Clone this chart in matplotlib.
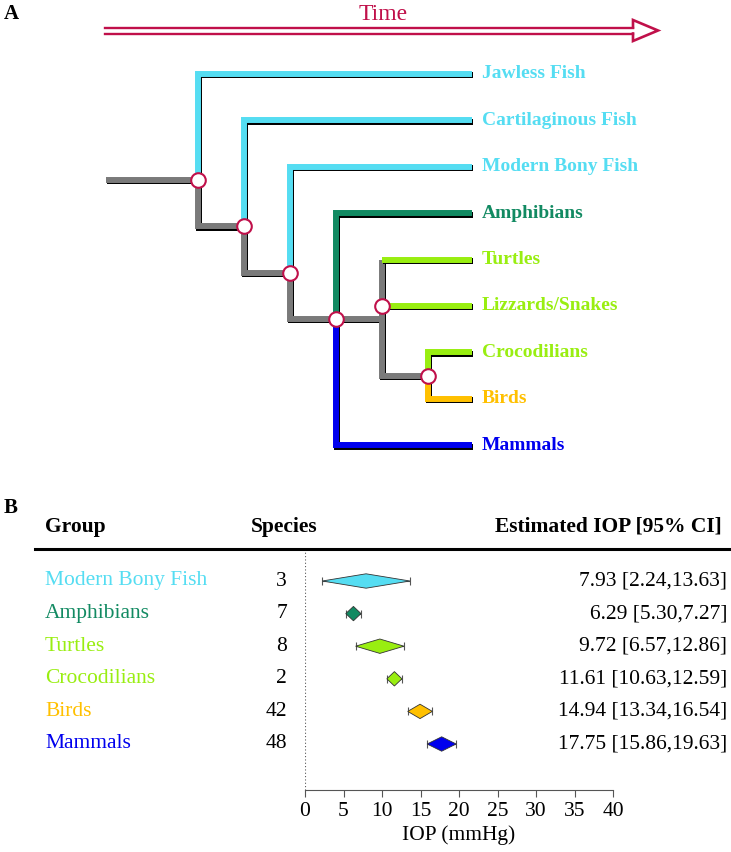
import matplotlib
matplotlib.use("Agg")
import matplotlib.pyplot as plt
from matplotlib.patches import Polygon
from matplotlib import patheffects as pe
from matplotlib import transforms as mtrans

plt.rcParams['font.family'] = ['Liberation Serif', 'DejaVu Serif']

# ---------------- data ----------------
taxa = ["Jawless Fish", "Cartilaginous Fish", "Modern Bony Fish", "Amphibians",
        "Turtles", "Lizzards/Snakes", "Crocodilians", "Birds", "Mammals"]
CYAN = "#55DDF2"
DGREEN = "#128A62"
LGREEN = "#99EE11"
ORANGE = "#FFC000"
BLUE = "#0000EE"
GRAY = "#7A7A7A"
CRIMSON = "#C0104A"
taxa_colors = [CYAN, CYAN, CYAN, DGREEN, LGREEN, LGREEN, LGREEN, ORANGE, BLUE]

groups = ["Modern Bony Fish", "Amphibians", "Turtles", "Crocodilians", "Birds", "Mammals"]
group_colors = [CYAN, DGREEN, LGREEN, LGREEN, ORANGE, BLUE]
species = [3, 7, 8, 2, 42, 48]
estimate = [7.93, 6.29, 9.72, 11.61, 14.94, 17.75]
ci_low = [2.24, 5.30, 6.57, 10.63, 13.34, 15.86]
ci_high = [13.63, 7.27, 12.86, 12.59, 16.54, 19.63]
xticks = [0, 5, 10, 15, 20, 25, 30, 35, 40]

# ---------------- figure ----------------
fig = plt.figure(figsize=(7.31, 8.52), dpi=100)
ax0 = fig.add_axes([0, 0, 1, 1])
ax0.set_xlim(0, 731)
ax0.set_ylim(852, 0)
ax0.axis("off")

# layout of tree (pixel grid)
tip_y0, tip_dy = 74, 46.4
lvl_x0, lvl_dx = 198, 46
tip_x = 472
def ty(r):
    return tip_y0 + tip_dy * r
def lx(l):
    return lvl_x0 + lvl_dx * l

shadow = [pe.SimpleLineShadow(offset=(1.0, -1.0), shadow_color="black", alpha=1.0), pe.Normal()]
LW = 4.3

def branch(pts, color):
    xs = [p[0] for p in pts]
    ys = [p[1] for p in pts]
    ax0.plot(xs, ys, color=color, lw=LW, solid_joinstyle="miter",
             solid_capstyle="butt", path_effects=shadow, zorder=2)

# internal nodes: (level, row)
nodes = [(0, 2.28), (1, 3.28), (2, 4.28), (3, 5.28), (4, 5.0), (5, 6.51)]
reptile_top, reptile_bot = ty(4), ty(6.51)

# gray backbone
branch([(lx(-2), ty(2.28)), (lx(0), ty(2.28))], GRAY)
branch([(lx(0), ty(2.28)), (lx(0), ty(3.28)), (lx(1), ty(3.28))], GRAY)
branch([(lx(1), ty(3.28)), (lx(1), ty(4.28)), (lx(2), ty(4.28))], GRAY)
branch([(lx(2), ty(4.28)), (lx(2), ty(5.28)), (lx(4), ty(5.28))], GRAY)
branch([(lx(4), reptile_top), (lx(4), reptile_bot), (lx(5), reptile_bot)], GRAY)

# colored tip branches: (start level, start row)
tip_links = [(0, 2.28), (1, 3.28), (2, 4.28), (3, 5.28), (4, 4), (4, 5),
             (5, 6.51), (5, 6.51), (3, 5.28)]
for i, (name, col) in enumerate(zip(taxa, taxa_colors)):
    l, r = tip_links[i]
    branch([(lx(l), ty(r)), (lx(l), ty(i)), (tip_x, ty(i))], col)
    ax0.text(482, ty(i), name, color=col, fontsize=14, fontweight="bold",
             va="center", ha="left")

for (l, r) in nodes:
    ax0.plot(lx(l), ty(r), "o", ms=10.5, mfc="white", mec=CRIMSON, mew=1.5, zorder=5)

# time arrow
ax0.plot([105, 633], [27.5, 27.5], color=CRIMSON, lw=1.7)
ax0.plot([105, 633], [33.5, 33.5], color=CRIMSON, lw=1.7)
ax0.plot([633, 633, 658, 633, 633], [27.5, 20, 30.5, 41, 33.5], color=CRIMSON,
         lw=1.9, solid_joinstyle="miter")
ax0.text(383, 14, "Time", color=CRIMSON, fontsize=17, ha="center", va="center")

# panel labels
ax0.text(4, 14, "A", fontsize=15, fontweight="bold", ha="left", va="center")
ax0.text(4, 508, "B", fontsize=15, fontweight="bold", ha="left", va="center")

# ---------------- forest plot ----------------
FS = 15.5
x0p, x1p = 305, 613
top_p, bot_p = 550, 790
ax1 = fig.add_axes([x0p / 731, 1 - bot_p / 852, (x1p - x0p) / 731, (bot_p - top_p) / 852])
ax1.set_xlim(0, 40)
row_px = 32.6
first_row_px = 581
ax1.set_ylim((bot_p - first_row_px) / row_px, -(first_row_px - top_p) / row_px)
ax1.set_facecolor("none")
for s in ["top", "right", "left"]:
    ax1.spines[s].set_visible(False)
ax1.spines["bottom"].set_color("#555555")
ax1.spines["bottom"].set_linewidth(0.8)
ax1.set_yticks([])
ax1.set_xticks(xticks)
ax1.tick_params(axis="x", direction="out", length=5, width=0.8, color="#555555",
                labelsize=FS, pad=4)
ax1.set_xlabel("IOP (mmHg)", fontsize=FS, labelpad=3)
ax1.axvline(0, ls=(0, (1, 2)), color="#555555", lw=0.8, zorder=0)

h = 7.2 / row_px
for i in range(len(groups)):
    ax1.errorbar(estimate[i], i, xerr=[[estimate[i] - ci_low[i]], [ci_high[i] - estimate[i]]],
                 fmt="none", ecolor="#555555", elinewidth=0.8, capsize=3, capthick=0.8, zorder=2)
    ax1.add_patch(Polygon([(ci_low[i], i), (estimate[i], i - h), (ci_high[i], i), (estimate[i], i + h)],
                          closed=True, facecolor=group_colors[i], edgecolor="#333333", lw=0.6, zorder=3))

tr = mtrans.blended_transform_factory(fig.transFigure, ax1.transData)
for i in range(len(groups)):
    fig.text(45 / 731, i, groups[i], transform=tr, color=group_colors[i], fontsize=FS,
             ha="left", va="center")
    fig.text(287 / 731, i, str(species[i]), transform=tr, fontsize=FS, ha="right", va="center")
    fig.text(727 / 731, i, f"{estimate[i]:.2f} [{ci_low[i]:.2f},{ci_high[i]:.2f}]", transform=tr,
             fontsize=FS, ha="right", va="center")

# header
ax0.text(45, 527, "Group", fontsize=FS, fontweight="bold", ha="left", va="center")
ax0.text(284, 527, "Species", fontsize=FS, fontweight="bold", ha="center", va="center")
ax0.text(722, 527, "Estimated IOP [95% CI]", fontsize=FS, fontweight="bold", ha="right", va="center")
ax0.plot([35, 730], [549, 549], color="black", lw=2.2)

fig.savefig("out.png", dpi=100)
